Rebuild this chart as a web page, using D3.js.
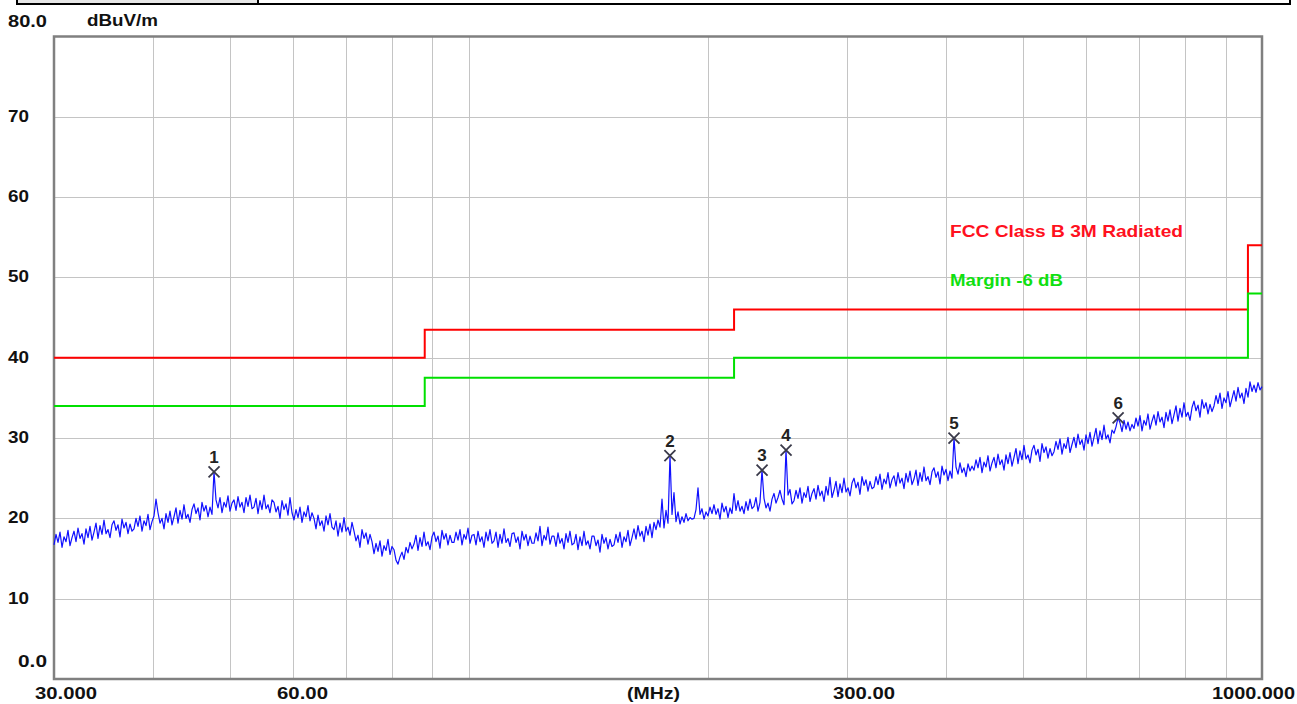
<!DOCTYPE html>
<html>
<head>
<meta charset="utf-8">
<script src="https://cdn.jsdelivr.net/npm/d3@7"></script>
<style>
  body { margin: 0; background: #fff; }
  text { font-family: "Liberation Sans", Arial, sans-serif; font-weight: bold; }
</style>
</head>
<body>
<svg id="svg"></svg>
<script>

const width = 1297;
const height = 704;

// limit lines (MHz, dBuV/m)
const limitFreq = [30, 88, 216, 960, 1000];
const limitLevel = [40, 43.5, 46, 54, 54];
const marginLevel = [34, 37.5, 40, 48, 48];

// markers
const markerFreq = [47.74, 179.3, 234.3, 251.2, 409.0, 658.6];
const markerLevel = [25.8, 27.8, 26.0, 28.5, 30.0, 32.5];

// axis ticks
const yTicks = [10, 20, 30, 40, 50, 60, 70];
const xGrid = [40, 50, 60, 70, 80, 90, 100, 200, 300, 400, 500, 600, 700, 800, 900];

// sweep: points log spaced between start and stop
const sweepStart = 30;
const sweepStop = 1000;
const traceLevel = [
  16.7, 18.0, 17.0, 18.3, 16.4, 17.7, 17.1, 18.5, 16.6, 17.6,
  18.4, 17.1, 18.8, 17.5, 18.1, 16.8, 18.7, 17.6, 19.0, 17.3,
  18.3, 19.4, 17.5, 19.1, 18.0, 19.8, 18.1, 18.6, 17.6, 19.2,
  19.7, 18.5, 19.2, 17.7, 19.9, 18.8, 19.5, 18.1, 19.3, 18.4,
  18.7, 20.0, 19.0, 20.3, 18.4, 19.7, 19.1, 20.5, 18.6, 19.6,
  20.3, 22.4, 20.7, 19.4, 20.0, 18.7, 20.6, 19.5, 20.9, 19.2,
  20.2, 21.3, 19.4, 21.0, 19.9, 21.7, 20.0, 20.5, 19.5, 21.1,
  21.8, 20.6, 21.3, 19.8, 22.0, 20.9, 21.6, 20.2, 21.4, 20.5,
  25.8, 22.3, 21.3, 22.6, 20.7, 22.0, 21.4, 22.8, 20.9, 21.9,
  22.3, 21.0, 22.7, 21.4, 22.0, 20.7, 22.6, 21.5, 22.9, 21.2,
  21.4, 22.5, 20.6, 22.2, 21.1, 22.9, 21.2, 21.7, 20.7, 22.3,
  22.0, 20.8, 21.5, 20.0, 22.2, 21.1, 21.8, 20.4, 22.6, 20.7,
  19.8, 21.1, 20.1, 21.4, 19.5, 20.8, 20.2, 21.6, 19.7, 20.7,
  20.0, 18.7, 20.4, 19.1, 19.7, 18.4, 20.3, 19.2, 20.6, 18.9,
  18.6, 19.7, 17.8, 19.4, 18.3, 20.1, 18.4, 18.9, 17.9, 19.5,
  18.4, 17.2, 17.9, 16.4, 18.6, 17.5, 18.2, 16.8, 18.0, 17.1,
  15.6, 16.9, 15.9, 17.2, 15.3, 16.6, 16.0, 17.4, 15.5, 16.5,
  16.1, 14.8, 14.3, 15.2, 15.8, 14.9, 16.4, 15.7, 17.0, 16.2,
  16.8, 17.9, 16.0, 17.6, 16.5, 18.3, 16.6, 17.1, 16.1, 17.7,
  18.3, 17.1, 17.8, 16.3, 18.5, 17.4, 18.1, 16.7, 17.9, 17.0,
  17.0, 18.3, 17.3, 18.6, 16.7, 18.0, 17.4, 18.8, 16.9, 17.9,
  18.0, 16.7, 18.4, 17.1, 17.7, 16.4, 18.3, 17.2, 18.6, 16.9,
  17.2, 18.3, 16.4, 18.0, 16.9, 18.7, 17.0, 17.5, 16.5, 18.1,
  18.2, 17.0, 17.7, 16.2, 18.4, 17.3, 18.0, 16.6, 17.8, 16.9,
  16.9, 18.2, 17.2, 19.0, 16.6, 17.9, 17.3, 18.9, 16.8, 17.8,
  17.8, 16.5, 18.2, 16.9, 17.5, 16.2, 18.1, 17.0, 18.4, 16.7,
  16.9, 18.0, 16.1, 17.7, 16.6, 18.4, 16.7, 17.2, 16.2, 17.8,
  17.8, 16.6, 17.3, 15.8, 18.0, 16.9, 17.6, 16.2, 17.4, 16.5,
  16.7, 18.0, 17.0, 18.3, 16.4, 17.7, 17.1, 18.5, 16.6, 17.6,
  18.7, 17.4, 19.1, 17.8, 18.4, 17.1, 19.0, 17.9, 19.3, 17.6,
  19.5, 18.6, 19.8, 18.9, 22.4, 18.8, 21.0, 19.4, 27.8, 20.5,
  23.2, 19.6, 20.8, 19.3, 20.2, 19.5, 20.6, 19.7, 20.1, 19.9,
  20.0, 21.1, 23.8, 20.5, 21.2, 19.9, 20.8, 20.3, 21.4, 20.6,
  21.7, 20.5, 21.2, 19.9, 21.9, 20.8, 21.5, 20.1, 21.3, 20.6,
  23.1, 21.0, 22.2, 20.9, 21.5, 20.6, 22.1, 21.0, 22.4, 21.2,
  21.5, 22.6, 20.9, 22.0, 26.0, 22.5, 21.3, 21.9, 20.9, 22.4,
  23.1, 21.9, 22.6, 23.5, 22.4, 21.7, 28.5, 22.9, 23.6, 21.8,
  22.2, 23.5, 22.5, 23.8, 21.9, 23.2, 22.6, 24.0, 22.1, 23.1,
  23.7, 22.4, 24.1, 22.8, 23.4, 22.1, 24.0, 22.9, 25.1, 22.6,
  23.5, 24.6, 22.7, 24.3, 23.2, 25.0, 23.3, 23.8, 22.8, 24.4,
  25.0, 23.8, 24.5, 23.0, 25.2, 24.1, 24.8, 23.4, 24.6, 23.7,
  23.9, 25.2, 24.2, 25.5, 23.6, 24.9, 24.3, 25.7, 23.8, 24.8,
  25.3, 24.0, 25.7, 24.4, 25.0, 23.7, 25.6, 24.5, 25.9, 24.2,
  24.9, 26.0, 24.1, 25.7, 24.6, 26.4, 24.7, 25.2, 24.2, 25.8,
  26.3, 25.1, 25.8, 24.3, 26.5, 25.4, 26.1, 24.7, 25.9, 25.0,
  30.0, 26.4, 25.5, 26.9, 25.7, 26.3, 25.2, 26.8, 25.9, 26.5,
  26.0, 27.3, 26.3, 27.6, 25.7, 27.0, 26.4, 27.8, 25.9, 26.9,
  27.6, 26.3, 28.0, 26.7, 27.3, 26.0, 27.9, 26.8, 28.2, 26.5,
  27.6, 28.7, 26.8, 28.4, 27.3, 29.1, 27.4, 27.9, 26.9, 28.5,
  29.1, 27.9, 28.6, 27.1, 29.3, 28.2, 28.9, 27.5, 28.7, 27.8,
  28.3, 29.6, 28.6, 29.9, 28.0, 29.3, 28.7, 30.1, 28.2, 29.2,
  30.1, 28.8, 30.5, 29.2, 29.8, 28.5, 30.4, 29.3, 30.7, 29.0,
  30.1, 31.2, 29.3, 30.9, 29.8, 31.6, 29.9, 30.4, 29.4, 31.0,
  30.6, 31.4, 32.5, 31.9, 30.8, 32.2, 31.1, 32.0, 30.9, 31.7,
  31.2, 32.5, 31.5, 32.8, 30.9, 32.2, 31.6, 33.0, 31.1, 32.1,
  32.9, 31.6, 33.3, 32.0, 32.6, 31.3, 33.2, 32.1, 33.5, 31.8,
  32.9, 34.0, 32.1, 33.7, 32.6, 34.4, 32.7, 33.2, 32.2, 33.8,
  34.6, 33.4, 34.1, 32.6, 34.8, 33.7, 34.4, 33.0, 34.2, 33.3,
  34.0, 35.3, 34.3, 35.6, 33.7, 35.0, 34.4, 35.8, 33.9, 34.9,
  35.9, 34.6, 36.3, 35.0, 35.6, 34.3, 36.2, 35.1, 37.0, 35.8,
  36.6, 35.7, 36.9, 36.0, 36.4
];

const svg = d3.select("#svg")
  .attr("width", width)
  .attr("height", height);

svg.append("rect")
  .attr("width", width)
  .attr("height", height)
  .attr("fill", "white");

const x = d3.scaleLog().domain([30, 1000]).range([54, 1262]);
const y = d3.scaleLinear().domain([0, 80]).range([679, 36.5]);

// header strip cut off at the top
svg.append("rect")
  .attr("x", 17).attr("y", -10)
  .attr("width", 241).attr("height", 14)
  .attr("fill", "#e6e6e6").attr("stroke", "#000").attr("stroke-width", 2);
svg.append("rect")
  .attr("x", 258).attr("y", -10)
  .attr("width", 1032).attr("height", 14)
  .attr("fill", "white").attr("stroke", "#000").attr("stroke-width", 2);

// grid
const grid = svg.append("g").attr("stroke", "#c4c4c4").attr("stroke-width", 1);
grid.selectAll(".hx")
  .data(yTicks)
  .enter().append("line")
  .attr("x1", x(30)).attr("x2", x(1000))
  .attr("y1", d => Math.round(y(d)) + 0.5)
  .attr("y2", d => Math.round(y(d)) + 0.5);
grid.selectAll(".vx")
  .data(xGrid)
  .enter().append("line")
  .attr("y1", y(80)).attr("y2", y(0))
  .attr("x1", d => Math.round(x(d)) + 0.5)
  .attr("x2", d => Math.round(x(d)) + 0.5);

// frame
svg.append("rect")
  .attr("x", x(30)).attr("y", y(80))
  .attr("width", x(1000) - x(30))
  .attr("height", y(0) - y(80))
  .attr("fill", "none")
  .attr("stroke", "#808080")
  .attr("stroke-width", 2.5);

// limit lines
const stepLine = d3.line()
  .x(d => x(d[0]))
  .y(d => y(d[1]))
  .curve(d3.curveStepAfter);

svg.append("path")
  .attr("d", stepLine(limitFreq.map((f, i) => [f, limitLevel[i]])))
  .attr("fill", "none").attr("stroke", "#ff0000").attr("stroke-width", 2);
svg.append("path")
  .attr("d", stepLine(limitFreq.map((f, i) => [f, marginLevel[i]])))
  .attr("fill", "none").attr("stroke", "#00e000").attr("stroke-width", 2);

// trace
const n = traceLevel.length;
const sweep = traceLevel.map((v, i) => [sweepStart * Math.pow(sweepStop / sweepStart, i / (n - 1)), v]);
svg.append("path")
  .attr("d", d3.line().x(d => x(d[0])).y(d => y(d[1]))(sweep))
  .attr("fill", "none")
  .attr("stroke", "#1010ff")
  .attr("stroke-width", 1.2)
  .attr("stroke-linejoin", "round");

// markers
const markers = markerFreq.map((f, i) => ({f: f, v: markerLevel[i], n: i + 1}));
const mk = svg.append("g").selectAll("g")
  .data(markers)
  .enter().append("g")
  .attr("transform", d => `translate(${x(d.f)},${y(d.v)})`);
mk.append("path")
  .attr("d", "M-5.5,-5.5L5.5,5.5M-5.5,5.5L5.5,-5.5")
  .attr("stroke", "#3a3a4a").attr("stroke-width", 1.8).attr("fill", "none");
mk.append("text")
  .attr("y", -9)
  .attr("text-anchor", "middle")
  .attr("font-size", 17)
  .attr("fill", "#222")
  .text(d => d.n);

// y labels
svg.selectAll(".yl")
  .data(yTicks)
  .enter().append("text")
  .attr("x", 8)
  .attr("y", d => y(d) + 5)
  .attr("font-size", 17)
  .attr("fill", "#111")
  .attr("textLength", 21)
  .attr("lengthAdjust", "spacingAndGlyphs")
  .text(d => d);
svg.append("text").attr("x", 8).attr("y", 27).attr("font-size", 17).attr("fill", "#111")
  .attr("textLength", 39).attr("lengthAdjust", "spacingAndGlyphs").text("80.0");
svg.append("text").attr("x", 18).attr("y", 667).attr("font-size", 17).attr("fill", "#111")
  .attr("textLength", 29).attr("lengthAdjust", "spacingAndGlyphs").text("0.0");
svg.append("text").attr("x", 87).attr("y", 26).attr("font-size", 16).attr("fill", "#111")
  .attr("textLength", 71).attr("lengthAdjust", "spacingAndGlyphs").text("dBuV/m");

// x labels
const xLabels = [
  {t: "30.000", x: 35, w: 62},
  {t: "60.00", x: 277, w: 51},
  {t: "(MHz)", x: 627, w: 53},
  {t: "300.00", x: 833, w: 62},
  {t: "1000.000", x: 1212, w: 83}
];
svg.selectAll(".xl")
  .data(xLabels)
  .enter().append("text")
  .attr("x", d => d.x)
  .attr("y", 699)
  .attr("font-size", 17)
  .attr("fill", "#111")
  .attr("textLength", d => d.w)
  .attr("lengthAdjust", "spacingAndGlyphs")
  .text(d => d.t);

// legend
svg.append("text").attr("x", 950).attr("y", 237).attr("font-size", 17).attr("fill", "#ff1020")
  .attr("textLength", 233).attr("lengthAdjust", "spacingAndGlyphs").text("FCC Class B 3M Radiated");
svg.append("text").attr("x", 950).attr("y", 286).attr("font-size", 17).attr("fill", "#10e010")
  .attr("textLength", 113).attr("lengthAdjust", "spacingAndGlyphs").text("Margin -6 dB");

</script>
</body>
</html>
